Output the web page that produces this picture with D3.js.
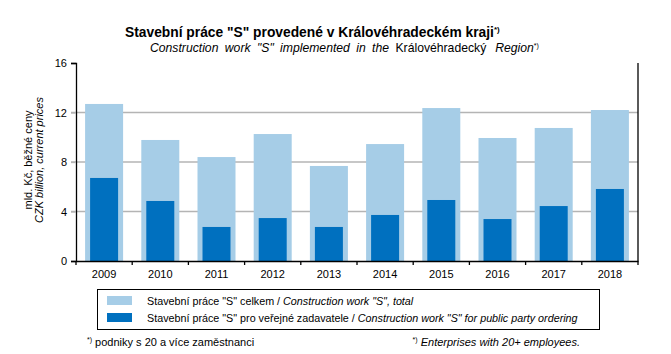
<!DOCTYPE html>
<html><head><meta charset="utf-8">
<script src="https://cdn.jsdelivr.net/npm/d3@7"></script>
<style>body{margin:0;background:#fff}svg{font-family:"Liberation Sans",Arial,sans-serif}</style>
</head><body>
<svg id="c" width="671" height="354"></svg>
<script>
const years = ["2009","2010","2011","2012","2013","2014","2015","2016","2017","2018"];
const totalValues = [12.69,9.78,8.40,10.26,7.68,9.45,12.36,9.94,10.75,12.20];
const publicValues = [6.71,4.85,2.75,3.47,2.75,3.72,4.93,3.39,4.44,5.82];
const yTicks = [0,4,8,12,16];

(function(){
const svg = d3.select("#c");
const pL = 76, pR = 638, pT = 63, pB = 261;
const x = d3.scaleBand().domain(years).range([pL, pR]);
const y = d3.scaleLinear().domain([0,16]).range([pB, pT]);

// grid
svg.append("g").selectAll("line").data(yTicks.filter(d=>d>0&&d<16)).join("line")
  .attr("x1", pL-5).attr("x2", pR).attr("y1", d=>y(d)).attr("y2", d=>y(d))
  .attr("stroke","#b4b4b4").attr("stroke-width",1.3);

const bw = x.bandwidth();
svg.append("g").selectAll("rect").data(years).join("rect")
  .attr("x", d=>x(d)+bw/2-19).attr("width",38)
  .attr("y", (d,i)=>y(totalValues[i])).attr("height",(d,i)=>pB-y(totalValues[i]))
  .attr("fill","#a6cde7");
svg.append("g").selectAll("rect").data(years).join("rect")
  .attr("x", d=>x(d)+bw/2-14).attr("width",28)
  .attr("y", (d,i)=>y(publicValues[i])).attr("height",(d,i)=>pB-y(publicValues[i]))
  .attr("fill","#0070bf");

// y axis
const ya = svg.append("g").attr("transform",`translate(${pL},0)`)
  .call(d3.axisLeft(y).tickValues(yTicks).tickSize(5).tickPadding(4).tickFormat(d3.format("d")));
ya.select(".domain").attr("stroke","#000").attr("stroke-width",1.3);
ya.selectAll(".tick line").attr("stroke",d=>(d===0||d===16)?"#000":"#b4b4b4").attr("stroke-width",1.3);
ya.selectAll("text").attr("font-size",11).attr("fill","#000").attr("font-family","Liberation Sans, Arial");

// x axis
const xa = svg.append("g").attr("transform",`translate(0,${pB})`)
  .call(d3.axisBottom(x).tickSize(0).tickPadding(9));
xa.select(".domain").attr("stroke","#000").attr("stroke-width",1.3);
xa.selectAll("text").attr("font-size",11).attr("fill","#000").attr("font-family","Liberation Sans, Arial");
// boundary ticks
const bounds = years.map(d=>x(d)).concat([pR]);
svg.append("g").selectAll("line").data(bounds).join("line")
  .attr("x1",d=>d).attr("x2",d=>d).attr("y1",pB).attr("y2",pB+4)
  .attr("stroke","#000").attr("stroke-width",1.3);
// right border
svg.append("line").attr("x1",pR).attr("x2",pR).attr("y1",pT).attr("y2",pB)
  .attr("stroke","#000").attr("stroke-width",1.3);

// titles
const t1 = svg.append("text").attr("x",125).attr("y",37).attr("font-size",13.8).attr("font-weight","bold");
t1.append("tspan").text('Stavební práce "S" provedené v Královéhradeckém kraji');
t1.append("tspan").attr("font-size",8).attr("dy",-5).text("*)");
const t2 = svg.append("text").attr("x",150).attr("y",52).attr("font-size",12.2);
t2.append("tspan").attr("font-style","italic").attr("word-spacing",3).text('Construction work "S" implemented in the ');
t2.append("tspan").text("Královéhradecký");
t2.append("tspan").attr("font-style","italic").attr("dx",9).text("Region");
t2.append("tspan").attr("font-size",7).attr("dy",-4).text("*)");

// y label
const yl = svg.append("text").attr("transform","translate(0,160) rotate(-90)").attr("text-anchor","middle").attr("font-size",11);
yl.append("tspan").attr("x",0).attr("y",32).text("mld. Kč, běžné ceny");
yl.append("tspan").attr("x",0).attr("y",43).attr("font-style","italic").text("CZK billion, current prices");

// legend
svg.append("rect").attr("x",97.5).attr("y",289.5).attr("width",502).attr("height",40)
  .attr("fill","none").attr("stroke","#000").attr("stroke-width",1);
const leg = [
  {c:"#a6cde7", a:'Stavební práce "S" celkem / ', b:'Construction work "S", total', y:296},
  {c:"#0070bf", a:'Stavební práce "S" pro veřejné zadavatele / ', b:'Construction work "S" for public party ordering', y:313}
];
leg.forEach(l=>{
  svg.append("rect").attr("x",107).attr("y",l.y).attr("width",25).attr("height",9).attr("fill",l.c);
  const t = svg.append("text").attr("x",147).attr("y",l.y+8.5).attr("font-size",10.75);
  t.append("tspan").text(l.a);
  t.append("tspan").attr("font-style","italic").text(l.b);
});

// footnotes
const f1 = svg.append("text").attr("x",87).attr("y",346).attr("font-size",11);
f1.append("tspan").attr("font-size",7).attr("dy",-4).text("*)");
f1.append("tspan").attr("dy",4).text(" podniky s 20 a více zaměstnanci");
const f2 = svg.append("text").attr("x",580).attr("y",346).attr("font-size",11).attr("text-anchor","end");
f2.append("tspan").attr("font-size",7).attr("dy",-4).text("*)");
f2.append("tspan").attr("dy",4).attr("font-style","italic").text(" Enterprises with 20+ employees.");
})();
</script>
</body></html>
